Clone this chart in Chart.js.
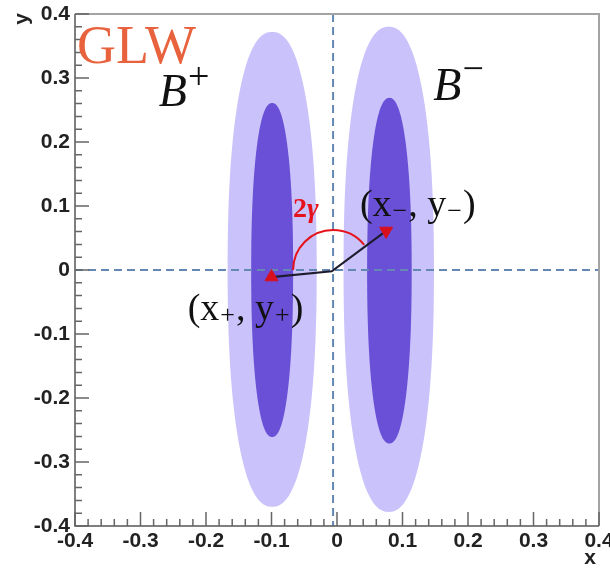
<!DOCTYPE html>
<html>
<head>
<meta charset="utf-8">
<script src="https://cdn.jsdelivr.net/npm/chart.js@4.4.1/dist/chart.umd.min.js"></script>
<style>
  html, body { margin: 0; padding: 0; background: #fff; }
  #wrap { width: 610px; height: 568px; }
</style>
</head>
<body>
<div id="wrap"><canvas id="glwChart" width="610" height="568"></canvas></div>
<script>
// axis ticks
const xTickValues = [-0.4, -0.3, -0.2, -0.1, 0, 0.1, 0.2, 0.3, 0.4];
const xTickLabels = ['-0.4', '-0.3', '-0.2', '-0.1', '0', '0.1', '0.2', '0.3', '0.4'];
const yTickValues = [-0.4, -0.3, -0.2, -0.1, 0, 0.1, 0.2, 0.3, 0.4];
const yTickLabels = ['-0.4', '-0.3', '-0.2', '-0.1', '0', '0.1', '0.2', '0.3', '0.4'];

// allowed regions for B+ (left) and B- (right)
const regionNames = ['B+', 'B-'];
const outerCenterX = [-0.099, 0.079];
const outerCenterY = [0.001, 0.001];
const outerHalfX = [0.068, 0.069];
const outerHalfY = [0.371, 0.379];
const innerCenterX = [-0.099, 0.080];
const innerCenterY = [0.000, -0.001];
const innerHalfX = [0.032, 0.034];
const innerHalfY = [0.261, 0.270];

// (x+, y+) and (x-, y-) and the vector through the origin
const pointX = [-0.100, 0.075];
const pointY = [-0.011, 0.061];
const pathX = [-0.100, -0.008, 0.075];
const pathY = [-0.011, -0.002, 0.061];

// dashed zero lines
const zeroLineX = [-0.006];
const zeroLineY = [0];

// 2 gamma arc (centre, radius in x units, canvas angles in degrees)
const arcCenterX = [-0.006];
const arcCenterY = [0];
const arcRadius = [0.061];
const arcAngles = [180, 321];

const sans = '"Liberation Sans", Arial, sans-serif';
const serif = '"Liberation Serif", "Times New Roman", serif';

// where the texts go (in axis units)
const notes = {
  glw: { x: -0.397, y: 0.323 },
  bPlus: { x: -0.272, y: 0.256 },
  bMinus: { x: 0.147, y: 0.266 },
  plusLabel: { x: -0.228, y: -0.078 },
  minusLabel: { x: 0.035, y: 0.084 },
  gamma: { x: -0.067, y: 0.083 }
};

// superellipse path, n=2 gives an ellipse
function blob(ctx, cx, cy, a, b, n) {
  ctx.beginPath();
  for (let i = 0; i <= 240; i++) {
    const t = i / 240 * Math.PI * 2;
    const c = Math.cos(t), s = Math.sin(t);
    const x = cx + a * Math.sign(c) * Math.pow(Math.abs(c), 2 / n);
    const y = cy + b * Math.sign(s) * Math.pow(Math.abs(s), 2 / n);
    if (i === 0) ctx.moveTo(x, y); else ctx.lineTo(x, y);
  }
  ctx.closePath();
}

// draw text pieces one after another (for sub/superscripts)
function runs(ctx, x, y, parts) {
  let cx = x;
  parts.forEach(p => {
    ctx.font = p.font;
    ctx.fillStyle = p.color || '#111';
    ctx.fillText(p.t, cx, y + (p.dy || 0));
    cx += ctx.measureText(p.t).width + (p.gap || 0);
  });
}

const regionsPlugin = {
  id: 'regions',
  beforeDatasetsDraw(chart) {
    const { ctx, chartArea: ca, scales: { x, y } } = chart;
    ctx.save();
    ctx.beginPath();
    ctx.rect(ca.left, ca.top, ca.right - ca.left, ca.bottom - ca.top);
    ctx.clip();

    // outer (light) regions
    ctx.fillStyle = 'rgb(202, 194, 250)';
    for (let i = 0; i < regionNames.length; i++) {
      const cx = x.getPixelForValue(outerCenterX[i]);
      const cy = y.getPixelForValue(outerCenterY[i]);
      const a = x.getPixelForValue(outerCenterX[i] + outerHalfX[i]) - cx;
      const b = cy - y.getPixelForValue(outerCenterY[i] + outerHalfY[i]);
      blob(ctx, cx, cy, a, b, 2.3);
      ctx.fill();
    }
    // inner (dark) regions
    ctx.fillStyle = 'rgb(106, 80, 214)';
    for (let i = 0; i < regionNames.length; i++) {
      const cx = x.getPixelForValue(innerCenterX[i]);
      const cy = y.getPixelForValue(innerCenterY[i]);
      const a = x.getPixelForValue(innerCenterX[i] + innerHalfX[i]) - cx;
      const b = cy - y.getPixelForValue(innerCenterY[i] + innerHalfY[i]);
      blob(ctx, cx, cy, a, b, 2.25);
      ctx.fill();
    }

    // dashed zero lines
    ctx.strokeStyle = 'rgb(100, 135, 180)';
    ctx.lineWidth = 2;
    ctx.setLineDash([8, 5]);
    const zx = x.getPixelForValue(zeroLineX[0]);
    const zy = y.getPixelForValue(zeroLineY[0]);
    ctx.beginPath();
    ctx.moveTo(zx, ca.top); ctx.lineTo(zx, ca.bottom);
    ctx.moveTo(ca.left, zy); ctx.lineTo(ca.right, zy);
    ctx.stroke();
    ctx.setLineDash([]);

    // 2 gamma arc
    const acx = x.getPixelForValue(arcCenterX[0]);
    const acy = y.getPixelForValue(arcCenterY[0]);
    const r = x.getPixelForValue(arcCenterX[0] + arcRadius[0]) - acx;
    ctx.strokeStyle = '#e5121c';
    ctx.lineWidth = 2;
    ctx.beginPath();
    ctx.arc(acx, acy, r, arcAngles[0] * Math.PI / 180, arcAngles[1] * Math.PI / 180, false);
    ctx.stroke();
    ctx.restore();
  },
  afterDraw(chart) {
    const { ctx, chartArea: ca, scales: { x, y } } = chart;
    ctx.save();

    // frame
    ctx.lineWidth = 2;
    ctx.strokeStyle = '#a3a3a3';
    ctx.beginPath();
    ctx.moveTo(ca.left, ca.top); ctx.lineTo(ca.right, ca.top); ctx.lineTo(ca.right, ca.bottom);
    ctx.stroke();
    ctx.strokeStyle = '#555';
    ctx.lineWidth = 1.5;
    ctx.beginPath();
    ctx.moveTo(ca.left, ca.top); ctx.lineTo(ca.left, ca.bottom); ctx.lineTo(ca.right, ca.bottom);
    ctx.stroke();

    // inward ticks, minor every 0.02
    ctx.strokeStyle = '#666';
    ctx.lineWidth = 1.5;
    ctx.beginPath();
    for (let k = -20; k <= 20; k++) {
      const v = k * 0.02;
      const len = k % 5 === 0 ? 14 : 7;
      const tx = x.getPixelForValue(v);
      const ty = y.getPixelForValue(v);
      ctx.moveTo(tx, ca.bottom); ctx.lineTo(tx, ca.bottom - len);
      ctx.moveTo(ca.left, ty); ctx.lineTo(ca.left + len, ty);
    }
    ctx.stroke();

    // axis titles
    ctx.fillStyle = '#222';
    ctx.font = 'bold 21px ' + sans;
    ctx.textAlign = 'center';
    ctx.textBaseline = 'middle';
    ctx.fillText('x', 590, 558);
    ctx.translate(22, 19);
    ctx.rotate(-Math.PI / 2);
    ctx.fillText('y', 0, 0);
    ctx.setTransform(1, 0, 0, 1, 0, 0);

    ctx.textAlign = 'left';
    ctx.textBaseline = 'alphabetic';
    const P = n => [x.getPixelForValue(n.x), y.getPixelForValue(n.y)];

    // GLW
    let [gx, gy] = P(notes.glw);
    ctx.fillStyle = '#e8623d';
    ctx.font = '54px ' + serif;
    ctx.fillText('GLW', gx, gy);

    // B+ and B-
    let [bx, by] = P(notes.bPlus);
    runs(ctx, bx, by, [
      { t: 'B', font: 'italic 46px ' + serif, gap: 1 },
      { t: '+', font: '38px ' + serif, dy: -17 }
    ]);
    [bx, by] = P(notes.bMinus);
    runs(ctx, bx, by, [
      { t: 'B', font: 'italic 46px ' + serif, gap: 1 },
      { t: '\u2212', font: '38px ' + serif, dy: -19 }
    ]);

    // point labels
    const main = '38px ' + serif, sub = '26px ' + serif;
    let [lx, ly] = P(notes.plusLabel);
    runs(ctx, lx, ly, [
      { t: '(x', font: main, gap: 1 }, { t: '+', font: sub, dy: 3, gap: 1 },
      { t: ', y', font: main, gap: 1 }, { t: '+', font: sub, dy: 3, gap: 1 }, { t: ')', font: main }
    ]);
    [lx, ly] = P(notes.minusLabel);
    runs(ctx, lx, ly, [
      { t: '(x', font: main, gap: 1 }, { t: '\u2212', font: sub, dy: 3, gap: 1 },
      { t: ', y', font: main, gap: 1 }, { t: '\u2212', font: sub, dy: 3, gap: 1 }, { t: ')', font: main }
    ]);

    // 2 gamma
    let [ax, ay] = P(notes.gamma);
    runs(ctx, ax, ay, [
      { t: '2', font: 'bold 28px ' + serif, color: '#e5121c' },
      { t: '\u03b3', font: 'bold italic 28px ' + serif, color: '#e5121c' }
    ]);
    ctx.restore();
  }
};

const tickFont = { family: sans, size: 21, weight: 'bold' };

new Chart(document.getElementById('glwChart').getContext('2d'), {
  type: 'scatter',
  data: {
    datasets: [
      {
        type: 'line',
        data: pathX.map((v, i) => ({ x: v, y: pathY[i] })),
        borderColor: '#1d1b2e',
        borderWidth: 2.2,
        pointRadius: 0,
        fill: false,
        tension: 0,
        order: 2
      },
      {
        data: [{ x: pointX[0], y: pointY[0] }],
        pointStyle: 'triangle',
        pointRadius: 7.5,
        backgroundColor: '#d8101e',
        borderColor: '#d8101e',
        order: 1
      },
      {
        data: [{ x: pointX[1], y: pointY[1] }],
        pointStyle: 'triangle',
        rotation: 180,
        pointRadius: 7.5,
        backgroundColor: '#d8101e',
        borderColor: '#d8101e',
        order: 1
      }
    ]
  },
  options: {
    responsive: false,
    animation: false,
    layout: { padding: { top: 14, right: 11, left: 0, bottom: 0 } },
    plugins: { legend: { display: false }, tooltip: { enabled: false } },
    scales: {
      x: {
        type: 'linear', min: -0.4, max: 0.4,
        grid: { display: false, drawTicks: false },
        border: { display: false },
        afterBuildTicks: s => { s.ticks = xTickValues.map(v => ({ value: v })); },
        ticks: { autoSkip: false, maxRotation: 0, padding: 3, color: '#222', font: tickFont,
                 callback: (v, i) => xTickLabels[i] },
        afterFit: s => { s.height = 42; s.paddingLeft = 0; s.paddingRight = 0; }
      },
      y: {
        type: 'linear', min: -0.4, max: 0.4,
        grid: { display: false, drawTicks: false },
        border: { display: false },
        afterBuildTicks: s => { s.ticks = yTickValues.map(v => ({ value: v })); },
        ticks: { autoSkip: false, padding: 5, color: '#222', font: tickFont,
                 callback: (v, i) => yTickLabels[i] },
        afterFit: s => { s.width = 75; s.paddingTop = 0; s.paddingBottom = 0; }
      }
    }
  },
  plugins: [regionsPlugin]
});
</script>
</body>
</html>
